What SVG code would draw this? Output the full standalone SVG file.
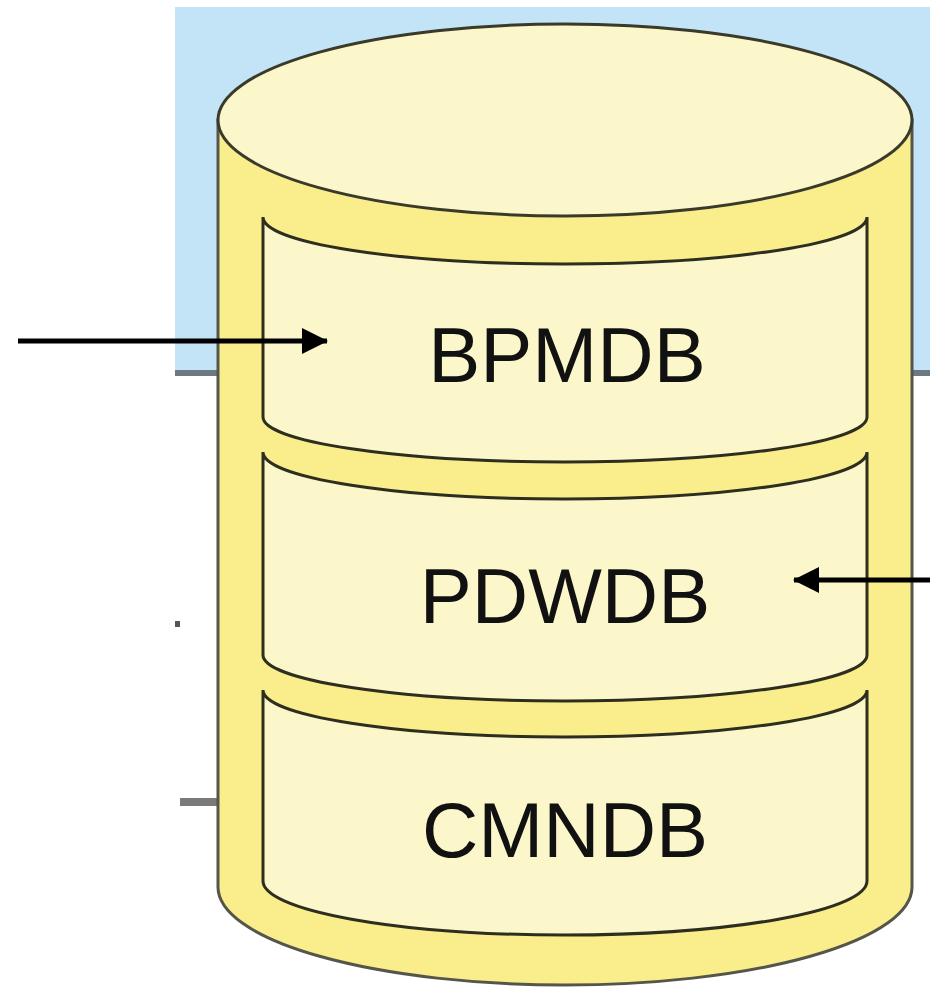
<svg xmlns="http://www.w3.org/2000/svg" width="930" height="995" viewBox="0 0 930 995">
<defs>
<style>
.bg{fill:#c3e4f6}
.edge{fill:#6e7883}
.band{fill:#faee8c;stroke:#55554a;stroke-width:3}
.panel{fill:#fcf6cb;stroke:#2e2e1e;stroke-width:3}
.lbl{font-family:"Liberation Sans",Arial,sans-serif;font-size:78px;fill:#111;text-anchor:middle}
.conn{stroke:#000;stroke-width:5;fill:none}
</style>
<marker id="ah" markerUnits="userSpaceOnUse" markerWidth="26" markerHeight="26" refX="25" refY="13" orient="auto">
<path d="M0,0 L26,13 L0,26 Z" fill="#000"/>
</marker>
</defs>
<rect width="930" height="995" fill="#fff"/>
<g id="background">
<rect class="bg" x="175" y="7" width="755" height="363"/>
<rect class="edge" x="175" y="370" width="755" height="6"/>
<rect x="180" y="798" width="40" height="8" fill="#7a7a7a"/>
<rect x="175" y="621" width="5" height="6" fill="#555"/>
</g>
<g id="cylinder">
<path class="band" d="M218,120 L218,887 A347,98 0 0 0 912,887 L912,120 Z"/>
<ellipse class="band" cx="565" cy="120" rx="347" ry="96" style="fill:#fcf6cb;stroke:#3a3a2a"/>
</g>
<g id="node-bpmdb">
<path class="panel" d="M263,217 A302,47 0 0 0 867,217 L867,417 A302,45 0 0 1 263,417 Z"/>
<text class="lbl" x="567" y="382">BPMDB</text>
</g>
<g id="node-pdwdb">
<path class="panel" d="M263,452 A302,47 0 0 0 867,452 L867,655 A302,46 0 0 1 263,655 Z"/>
<text class="lbl" x="565" y="623">PDWDB</text>
</g>
<g id="node-cmndb">
<path class="panel" d="M263,690 A302,47 0 0 0 867,690 L867,881 A302,54 0 0 1 263,881 Z"/>
<text class="lbl" x="565" y="857">CMNDB</text>
</g>
<g id="connectors">
<line class="conn" x1="18" y1="341" x2="327" y2="341" marker-end="url(#ah)"/>
<line class="conn" x1="930" y1="580" x2="794" y2="580" marker-end="url(#ah)"/>
</g>
</svg>
